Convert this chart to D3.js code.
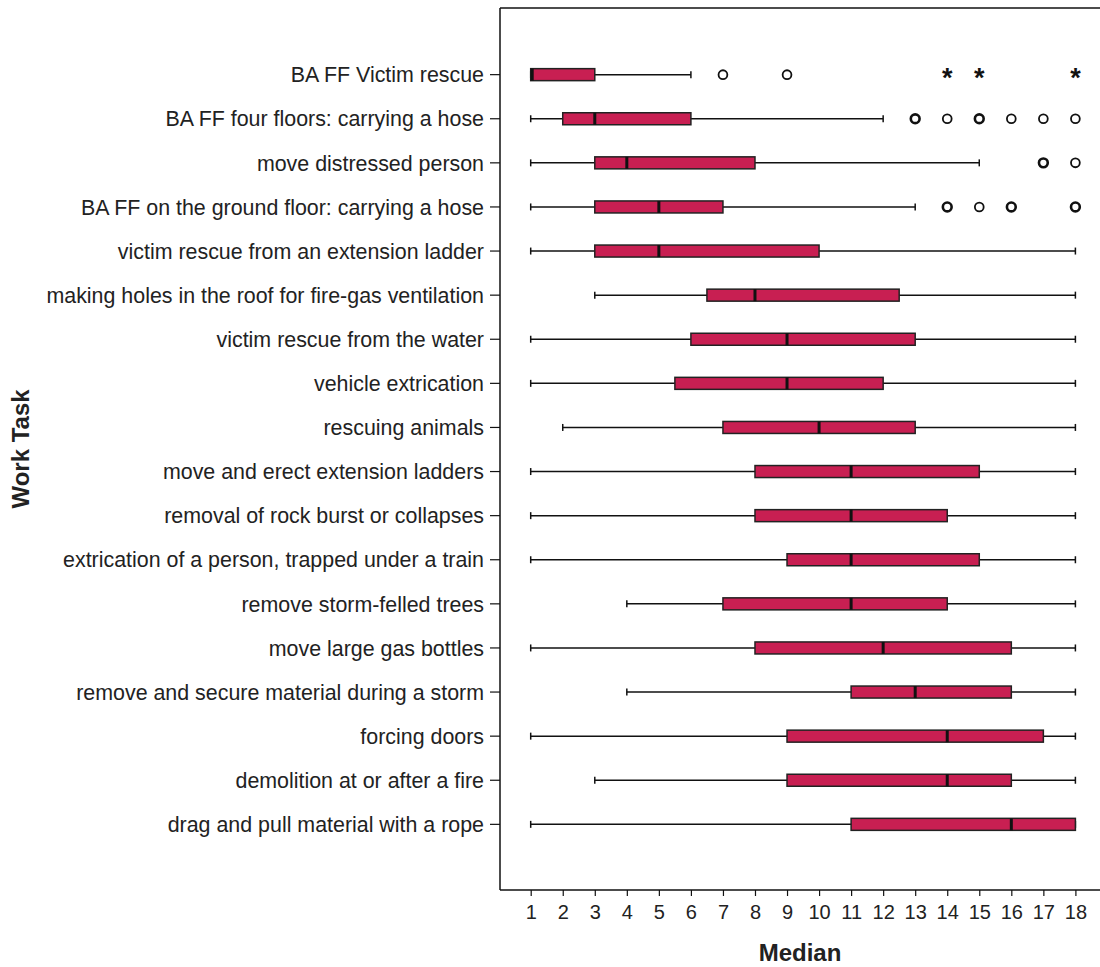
<!DOCTYPE html>
<html>
<head>
<meta charset="utf-8">
<script src="https://cdn.jsdelivr.net/npm/d3@7"></script>
<style>
  body { margin: 0; background: #fff; }
  svg text { font-family: "Liberation Sans", Arial, sans-serif; fill: #222; }
</style>
</head>
<body>
<div id="chart"></div>
<script>
// work tasks, top to bottom
const tasks = [
  "BA FF Victim rescue",
  "BA FF four floors: carrying a hose",
  "move distressed person",
  "BA FF on the ground floor: carrying a hose",
  "victim rescue from an extension ladder",
  "making holes in the roof for fire-gas ventilation",
  "victim rescue from the water",
  "vehicle extrication",
  "rescuing animals",
  "move and erect extension ladders",
  "removal of rock burst or collapses",
  "extrication of a person, trapped under a train",
  "remove storm-felled trees",
  "move large gas bottles",
  "remove and secure material during a storm",
  "forcing doors",
  "demolition at or after a fire",
  "drag and pull material with a rope"
];
const whiskerLow  = [1, 1, 1, 1, 1, 3, 1, 1, 2, 1, 1, 1, 4, 1, 4, 1, 3, 1];
const q1          = [1, 2, 3, 3, 3, 6.5, 6, 5.5, 7, 8, 8, 9, 7, 8, 11, 9, 9, 11];
const median      = [1, 3, 4, 5, 5, 8, 9, 9, 10, 11, 11, 11, 11, 12, 13, 14, 14, 16];
const q3          = [3, 6, 8, 7, 10, 12.5, 13, 12, 13, 15, 14, 15, 14, 16, 16, 17, 16, 18];
const whiskerHigh = [6, 12, 15, 13, 18, 18, 18, 18, 18, 18, 18, 18, 18, 18, 18, 18, 18, 18];

// outliers: [task index, value, bold?]
const circleOutliers = [
  [0, 7, false], [0, 9, false],
  [1, 13, true], [1, 14, false], [1, 15, true], [1, 16, false], [1, 17, false], [1, 18, false],
  [2, 17, true], [2, 18, false],
  [3, 14, true], [3, 15, false], [3, 16, true], [3, 18, true]
];
const extremeOutliers = [[0, 14], [0, 15], [0, 18]];

const xTicks = d3.range(1, 19);

const width = 1100, height = 967;
const margin = {top: 8, left: 500, bottom: 77};

const svg = d3.select("#chart").append("svg")
    .attr("width", width)
    .attr("height", height);

const x = d3.scaleLinear()
    .domain([1, 18])
    .range([530.7, 1075.4]);

// 20 slots, rows occupy slots 1..18
const slots = d3.range(20);
const y = d3.scaleBand()
    .domain(slots)
    .range([margin.top, height - margin.bottom])
    .padding(0);
const yc = i => y(i + 1) + y.bandwidth() / 2 + 0.5;

const boxH = 12;
const fillColor = "#c81f52";

// frame: top border + left axis + bottom axis
svg.append("line")
    .attr("x1", margin.left).attr("x2", width)
    .attr("y1", margin.top).attr("y2", margin.top)
    .attr("stroke", "#111").attr("stroke-width", 1.5);

const xAxis = svg.append("g")
    .attr("transform", "translate(0," + (height - margin.bottom) + ")")
    .call(d3.axisBottom(x).tickValues(xTicks).tickFormat(d3.format("d")).tickSize(6).tickSizeOuter(0));
xAxis.select(".domain").remove();
xAxis.append("line")
    .attr("x1", margin.left).attr("x2", width)
    .attr("stroke", "#111").attr("stroke-width", 1.5);
xAxis.selectAll(".tick line").attr("stroke", "#111").attr("stroke-width", 1.2);
xAxis.selectAll(".tick text")
    .attr("y", 15)
    .style("font-size", "20px")
    .style("fill", "#222")
    .style("font-family", "Liberation Sans, Arial, sans-serif");

const yAxis = svg.append("g")
    .attr("transform", "translate(" + margin.left + ",0)");
yAxis.append("line")
    .attr("y1", margin.top).attr("y2", height - margin.bottom)
    .attr("stroke", "#111").attr("stroke-width", 1.5);
const yTick = yAxis.selectAll("g.ytick").data(tasks).enter().append("g")
    .attr("transform", (d, i) => "translate(0," + yc(i) + ")");
yTick.append("line")
    .attr("x1", -10).attr("x2", 0)
    .attr("stroke", "#111").attr("stroke-width", 1.2);
yTick.append("text")
    .attr("x", -16)
    .attr("dy", "0.36em")
    .attr("text-anchor", "end")
    .style("font-size", "21.4px")
    .text(d => d);

// boxes
const rows = svg.append("g").selectAll("g").data(tasks).enter().append("g");

rows.append("line")
    .attr("x1", (d, i) => x(whiskerLow[i]))
    .attr("x2", (d, i) => x(whiskerHigh[i]))
    .attr("y1", (d, i) => yc(i)).attr("y2", (d, i) => yc(i))
    .attr("stroke", "#111").attr("stroke-width", 1.5);

rows.selectAll("line.cap")
    .data((d, i) => [[i, whiskerLow[i]], [i, whiskerHigh[i]]])
    .enter().append("line").attr("class", "cap")
    .attr("x1", d => x(d[1])).attr("x2", d => x(d[1]))
    .attr("y1", d => yc(d[0]) - 3.5).attr("y2", d => yc(d[0]) + 3.5)
    .attr("stroke", "#111").attr("stroke-width", 1.5);

rows.append("rect")
    .attr("x", (d, i) => x(q1[i]))
    .attr("width", (d, i) => x(q3[i]) - x(q1[i]))
    .attr("y", (d, i) => yc(i) - boxH / 2)
    .attr("height", boxH)
    .attr("fill", fillColor)
    .attr("stroke", "#222").attr("stroke-width", 1.5);

rows.append("line")
    .attr("x1", (d, i) => x(median[i]) + (median[i] === q1[i] ? 1.5 : 0))
    .attr("x2", (d, i) => x(median[i]) + (median[i] === q1[i] ? 1.5 : 0))
    .attr("y1", (d, i) => yc(i) - boxH / 2)
    .attr("y2", (d, i) => yc(i) + boxH / 2)
    .attr("stroke", "#111").attr("stroke-width", 3);

// outliers
svg.append("g").selectAll("circle").data(circleOutliers).enter().append("circle")
    .attr("cx", d => x(d[1]))
    .attr("cy", d => yc(d[0]))
    .attr("r", 4.4)
    .attr("fill", "none")
    .attr("stroke", "#111")
    .attr("stroke-width", d => d[2] ? 2.6 : 1.8);

svg.append("g").selectAll("text").data(extremeOutliers).enter().append("text")
    .attr("x", d => x(d[1]))
    .attr("y", d => yc(d[0]) + 12)
    .attr("text-anchor", "middle")
    .style("font-size", "27px")
    .style("font-weight", "bold")
    .style("fill", "#111")
    .text("*");

// axis titles
svg.append("text")
    .attr("x", 800).attr("y", 961)
    .attr("text-anchor", "middle")
    .style("font-size", "24px")
    .style("font-weight", "bold")
    .text("Median");

svg.append("text")
    .attr("transform", "translate(29,449) rotate(-90)")
    .attr("text-anchor", "middle")
    .style("font-size", "24px")
    .style("font-weight", "bold")
    .text("Work Task");
</script>
</body>
</html>
